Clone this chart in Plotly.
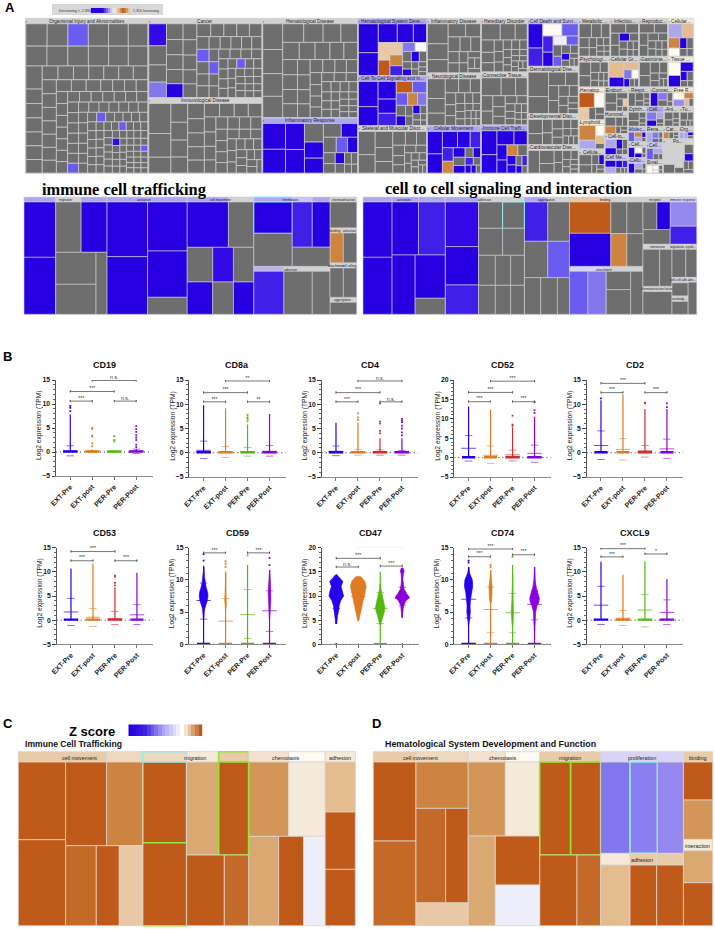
import plotly.graph_objects as go

W, H = 715, 929
PAL = {'D':'#c05a1b','M':'#cd8440','N':'#c46a28','T':'#d29658','U':'#d9a873','V':'#e3bc90','L':'#e9c9a5','S':'#f5e9da',
       'W':'#fdf9f3','I':'#eeeefa','H':'#e8cca8','J':'#efd8bd','K':'#f3e2cf','Q':'#f5ead9','B':'#2600e0','b':'#3208e6',
       'n':'#4020e8','c':'#6a5cf0','e':'#8377ee','f':'#8a7fee','h':'#9589f0','p':'#c8c4f2','r':'#b8b2f0','t':'#aca8ee',
       'u':'#d8d4f8','G':'#6e6e6e','g':'#d2d2d2','A':'#e9c9a5','X':'#ffffff'}
HI = {'+':'#8ff0ee','*':'#8fe83a'}

# ---------- panel A overview: categories and estimated pathway weights ----------
A_NAMES = ['Organismal Injury and Abnormalities','Cancer','Immunological Disease','Hematological Disease','Inflammatory Response',
 'Hematological System Deve...','Cell-To-Cell Signaling and In...','Skeletal and Muscular Disor...','Inflammatory Disease','Neurological Disease',
 'Cellular Movement','Hereditary Disorder','Connective Tissue...','Immune Cell Traffi...','Cell Death and Survi...',
 'Dermatological Dise...','Developmental Diso...','Cardiovascular Dise...','Metabolic ...','Infectiou...','Reproduc...','Cellular...',
 'Psychologi...','Cellular Gr...','Gastrointe...','Tissue ...','Hematop...','Lymphoid...','Cellula...','Endocri...','Humoral...',
 'Cell-to...','Cell Me...','Respir...','Connec...','Free R...','Ophth...','Cell...','Ant...','Tu...','Molec...','Cell...','Cellu...',
 'Rena...','Cell...','Smal...','Car...','Po...','Org...']
A_X0 = [25.3,148.3,148.3,262.3,262.3,358,358,358,427,427,427,481,481,481,527.7,527.7,527.7,527.7,578.7,610.3,639,668,578.7,608.7,639,668,
        578.7,578.7,578.7,604.7,604.7,604.7,604.7,628,650,673,628,646.3,664,679.7,628,628,628,646.3,646.3,646.3,663,663,679]
A_X1 = [148.3,262.3,262.3,358,358,427,427,427,481,481,481,527.7,527.7,527.7,578.7,578.7,578.7,578.7,610.3,639,668,693.7,608.7,639,668,693.7,
        604.7,604.7,604.7,628,628,628,628,650,673,693.7,646.3,664,679.7,693.7,646.3,646.3,646.3,663,663,663,679,693.7,693.7]
A_Y0 = [18.3,18.3,98,18.3,118,18.3,76,126,18.3,73.3,126,18.3,72.3,125.3,18.3,66.7,114,145,18.3,18.3,18.3,18.3,56.7,56.7,56.7,56.7,
        87.3,120,149.3,87.3,111.7,134,155,87.3,87.3,87.3,106.7,106.7,106.7,106.7,126.7,142,158,126.7,143,160,126.7,139,126.7]
A_Y1 = [173.5,98,173.5,118,173.5,76,126,173.5,73.3,126,173.5,72.3,125.3,173.5,66.7,114,145,173.5,56.7,56.7,56.7,56.7,87.3,87.3,87.3,87.3,
        120,149.3,173.5,111.7,134,155,173.5,106.7,106.7,106.7,126.7,126.7,126.7,126.7,142,158,173.5,143,160,173.5,139,173.5,139]
A_SIZES = [
 [340,330,325,320,315,310,300,295,290,285,280,275,270,170,168,165,162,160,158,155,152,150,148,146,144,142,140,138,136,134,132,130,128,126,124,122,
  100,99,98,97,96,95,94,93,92,91,90,89,88,87,86,85,84,83,82,81,80,79,78,77,76,75,74,73,72,71,70,69,68,67,66,65,64,63,62,61,60,
  58,57,56,55,54,53,52,51,50,50,49,49,48,48,47,47,46,46,45,45,44,44,43,43,42,42,41,41,40,40,39,39,38,38,37,37,36,36,35,35,34,34,33,33,32,32,31,31,30,30,30,29,29,28,28,27,27,26,26,25,25],
 [230,200,180,160,155,150,145,140,135,130,125,120,115,110,105,100,98,96,94,92,90,88,86,84,82,80,78,76,74,72,70,68,66,64,62,60,58,56,54,52,50,50,48,48,46,46,44,44,42,42,40,40,38,38,36,36,35,34,33,32],
 [420,330,220,200,190,180,170,160,150,145,140,135,130,125,120,115,110,105,100,95,92,90,88,85,82,80,78,75,72,70,68,66,64,62,60,58,56,54,52,50,48,46,44,42,40],
 [340,320,300,280,260,240,220,205,190,180,170,160,155,150,145,140,135,130,125,120,115,110,105,100,96,92,88,84,80,76,72,68,64,62,60,58,56,54,52,50,48,46,44,42,40,38,36,35,34,33],
 [500,460,420,380,300,260,240,210,190,170,150,130,110,95,85,75,68,60,52,45],
 [420,330,260,220,180,150,130,115,100,90,82,74,66,60,54,48,42,38,34,30,26,22],
 [400,300,260,210,180,150,130,115,100,90,80,72,64,56,50,44,38,34,30,26],
 [380,300,280,240,200,170,150,135,120,105,95,85,78,70,64,58,52,46,42,38,34,30],
 [380,300,250,210,180,160,145,130,115,100,90,80,72,64,56,50],
 [320,240,200,170,150,130,115,105,95,88,80,74,68,62,56,52,48,44,40,36,33,30,28],
 [340,290,250,210,170,150,130,115,100,90,80,72,64,56,48,40,34],
 [250,200,160,130,110,95,85,78,72,66,62,58,54,50,46,42,38,36,34,32,30,28,26,24],
 [340,250,200,170,150,130,115,100,90,80,72,66,60,54,48,42,38,34,30],
 [340,260,220,170,140,120,105,90,78,66,56,48,40,34],
 [320,240,210,180,150,130,110,95,85,75,66,58,50,44,38,32,28],
 [520,360,240,180,160,140,120,100,90,80,70,60,50],
 [170,130,110,95,85,75,65,60,55,50,45,40,36,32],
 [200,150,110,80,70,60,50,44,38,32,28,24],
 [160,130,110,95,80,70,60,52,46,40,34,30,26],
 [130,110,95,85,75,65,60,52,46,40,36,32],
 [120,105,90,80,70,60,55,50,44,40,36,32],
 [150,120,90,70,60,52,44,36],
 [135,110,85,70,55,45,38,32,26,22],
 [190,120,95,60,50,40,32,28],
 [120,100,85,70,55,45,38,30,26],
 [130,110,95,50,45,35,28],
 [170,110,90,60,45,35],
 [190,110,70,50,35],
 [100,80,55,40,32,28,22],
 [110,85,60,45,30,25,20],
 [85,70,55,40,30,25,20],
 [70,55,45,35,25,20],
 [70,60,45,35,25,20,15],
 [80,60,40,30,20,15],
 [80,55,45,35,20],
 [60,55,40,30,25],
 [70,45,30,25,15],
 [60,45,35,25,15],
 [50,40,30,20,15],
 [40,30,25,15,12],
 [50,32,28,18,14],
 [60,40,30,20,14],
 [55,40,28,18,12],
 [50,38,26,20,14],
 [60,40,26,18],
 [50,30,22,18,12],
 [36,28,18,14],
 [30,26,24,22,20,18,16,14,12,10,10,8],
 [26,22,18,14],
]
A_KEYS = {0:{2:'c',60:'c',75:'c',95:'c',110:'b',125:'c'},1:{0:'b',3:'e',8:'B',20:'c',30:'c',42:'c'},4:{0:'B',1:'B',2:'B',3:'B',5:'B',6:'B',8:'B',10:'c',11:'B',14:'B'},
 5:{0:'B',1:'B',2:'B',3:'B',4:'B',5:'L',6:'D',7:'L',8:'M',9:'n',10:'e',11:'W',13:'B',16:'B'},6:{0:'B',1:'B',2:'B',3:'B',4:'n',5:'D',6:'c',7:'c',8:'M',9:'e',11:'B',14:'B'},
 10:{0:'B',1:'B',2:'B',3:'B',4:'n',5:'n',6:'M',7:'B',9:'B',11:'B',12:'n',14:'B',15:'B'},13:{0:'B',1:'B',2:'B',3:'B',4:'B',5:'B',6:'M',8:'B',9:'B',11:'n',12:'B'},
 14:{0:'B',1:'n',2:'W',3:'c',4:'n',5:'B',6:'I',7:'c',9:'c',12:'B'},19:{4:'B'},21:{0:'t',1:'V',2:'M',3:'W',4:'B'},23:{0:'V',1:'B',2:'V',3:'e',4:'W',5:'B'},25:{0:'W',1:'B',2:'B',3:'B'},
 26:{0:'D',1:'W',2:'A'},27:{0:'M',1:'t',2:'W',3:'V'},28:{3:'B'},29:{4:'A'},30:{1:'M'},31:{0:'t',1:'B',2:'B'},32:{0:'B',1:'t',2:'B',3:'n'},
 34:{0:'B',1:'e'},35:{0:'W',1:'h',2:'M',3:'V'},37:{0:'e',1:'B',2:'t'},40:{0:'c',1:'M',2:'t',3:'B'},41:{0:'B',1:'W',2:'B'},42:{0:'B',1:'t'},43:{0:'t',1:'e',2:'c'},44:{0:'c',1:'t'},45:{0:'W',1:'W',2:'I'},
 47:{0:'g',1:'g',2:'G',3:'g',4:'G',5:'g',6:'B',7:'g',8:'G'},48:{0:'t',1:'t',2:'B'},46:{0:'M'}}
A_HEADS = {4:'t',5:'t',6:'t',10:'t',13:'t',14:'p',21:'Q',25:'Q',26:'Q',27:'Q',35:'Q',37:'t',40:'p',44:'p',42:'p',32:'p'}

# ---------- panel A zoom treemaps: nested weights, leaves read in order ----------
ICT_SIZES = [
 [[14.25,11.4,11.55],[[157.7,162.45],[[114.76,116.27],[[115.2,108],61.38]]]],
 [[18.3,17.7],[[200.08,211.06],[173.46,164.02,60.18]]],
 [[18.6,11.4],[168.64,103.36],[80.08,64.48,63.44],[74.69,60.14,59.17]],
 [[17.25,9,7.95],[[108.1,113.85],[[81,71.55],65.54]],[13.5,12.75,7.95],[116.1,109.65,68.37]],
 [12,62.4,[6,6],[36,36],[6,6],[35.2,35.2],12,28.8],
]
ICT_SHADES = 't g t B B G B G G G t t B B B B G t g B G G b G B G B t+ p t B+ G n B G r g g n G G g G L g M G g g G G g G'.split()
CCS_SIZES = [
 [[13.05,11.85,12],[[144.42,148.77],[[125.61,127.2],[122.82,[117,43.2]]]]],
 [[15,10.8,9.75],[[134,115,88],[[56.88,51.35],[58.32,52.65],[45,41.4,36.9],[43.5,40.02,35.67]]]],
 [[10.5,9.75],[82.6,76.7],[76.3,70.85],[53.9,55,39.6]],
 [[18.6,7.2,7.2],[[116.56,122.76],[[45.6,45.6],[47.04,47.04]]],[16.5,10.95,5.55],[70.95,70.95,[40.15,54.02],47.73]],
 [[[12.3,[34.44,32.8],36.08],[12,57.6,43.2]],[[13.05,[55.5,41.07],13.92,59.16],[[6.3,4.95],[34.86,27.39],[[7.84,19.11,7.84,18.62],[3.64,24.7]]]]],
]
CCS_SHADES = 't t t B B B n B B G t g g b B n G G+ G G G G G G G G t g n G G c G G G L g g D B G G M G u g g c e G G G g G B G u h n g G G g G g g G G g G g G g G'.split()

# ---------- panels C and D ----------
C_SIZES = [
 [[44.02,38.13,33.48],[[330.86,366.36],[[308.73,271.08],[220.8,165.6,168]]]],
 [[40.92,29.76,27.9],[[319.44,328.68],[[267.84,251.1],[239.56,154.76]]]],
 [[37.2,33.79],[267.6,243.07],[241.2,201,171.52]],
 [28.21,136.5,156.52,153.79],
]
C_SHADES = 'H H J D D D M N D L J+ S H* D+ D* U D* D N K W T S U D I Q V D D'.split()
D_SIZES = [
 [[39.68,48.36],[[303.36,325.12],[216.84,[251.87,189.61],107.64]]],
 [[34.72,31.93],[248.64,228.66],[220.58,[195.51,162.26]]],
 [[28.83,27.9],[259.47,251.1],[237.44,150.52]],
 [[27.28,25.42,24.18],[241.12,224.68,213.72],[30.8,28,28],[160.16,145.6,145.6]],
 [27.28,100.32,103.84,29.92,84.48,113.52],
]
D_SHADES = 'H J D N M N D L K W T S U D I H H D* D* D N u u u e f+ h Q H H V D D H D T Q U D'.split()

HEAD_TEXT = ['migration','activation','cell movement','chemotaxis','adhesion','chemoattraction','binding','attraction','attachment','cell rolling','aggregation',
 'activation','adhesion','aggregation','binding','attachment','receptor','immune response','interaction','regulation...','cytok...','chemoattraction factor','cell-cell adh...','abs...','antibody...']
HEAD_X = [65,144.3,220,290.7,290.7,343,335.7,349,335.7,349,342.7,403.7,484.7,546.3,605.3,603.7,655.7,683.3,657,678,690.7,656.9,679.7,692,679.7]
HEAD_Y = [199.7,199.7,199.7,199.7,269.7,199.7,230.7,230.7,265.7,265.7,300.3,199.7,199.7,199.7,199.7,270,199.7,199.7,246.7,246.7,246.7,288.7,280.3,280.3,299.3]
CD_TEXT = ['cell movement','migration','chemotaxis','adhesion','cell movement','chemotaxis','migration','proliferation','binding','adhesion','interaction']
CD_X = [79.7,195.3,286,340,420.3,503.3,569.7,641.7,697.3,641.7,697.3]
CD_Y = [757.7,757.7,757.7,757.7,757.7,757.7,757.7,757.7,757.7,860.3,846.3]

# ---------- colour bars ----------
ZBAR_POS = [0,1,2,3,4,5,6,7,8,9,10,11,12,13,14,15,16,17,18,19]
ZSCALE = [[0,'#2600e0'],[0.2,'#3a1ce4'],[0.45,'#a49cf0'],[0.74,'#ffffff'],[0.78,'#f5e9da'],[0.85,'#e2bd92'],[1,'#c05a1b']]
LEGEND_SCALE = [[0,'#2600e0'],[0.3,'#2600e0'],[0.55,'#dcd8f0'],[0.62,'#eeeeee'],[0.72,'#e2bd92'],[0.85,'#c05a1b'],[1,'#e2bd92']]

# ---------- panel B ----------
GENES = ['CD19','CD8a','CD4','CD52','CD2','CD53','CD59','CD47','CD74','CXCL9']
GROUPS = ['EXT-Pre','EXT-post','PER-Pre','PER-Post']
BLUE,ORANGE,GREEN,RED,PURPLE = '#2400ee','#e07a20','#55b811','#d42a32','#8a00dc'
PER_PRE_COL = [GREEN,GREEN,RED,RED,RED,RED,GREEN,GREEN,GREEN,GREEN]
AX_X0 = [56,189.3,321.7,454.3,586.7,56.7,189.3,322,454.3,586.7]
AX_YT = [380,380,380,380,380,547.7,547.7,547.7,547.7,547.7]
AX_YB = [476,477,477,477,477,644.3,644.3,644.3,644.3,644.3]
YMIN = [-5,-5,-5,-5,-5,-5,0,0,0,-5]
YMAX = [15,15,15,20,15,15,15,20,15,15]
STEM_LOW = [[0,0,0,0],[0,0,0,0],[0,0,0,0],[0,0,0,0],[0,0,0,0],[0,0,0,0],[0,0,0,0],[4.2,4.8,0,5.5],[0,0,0,0],[0,0,0,0]]
STEM_TOP = [[7.8,0.5,0.4,0.6],[9.8,9.2,5.8,8.0],[6.2,6.2,3.0,3.0],[13.2,12.4,7.8,10.5],[10.8,12,9,9],[10.7,11.7,6.8,9.8],
            [12.2,11.3,12.3,11.5],[14.4,14.2,15,15.8],[12,11.5,12.3,12],[12.1,9.4,12.2,8.5]]
MEAN = [[0.2,0.1,0.05,0.15],[0.5,0.15,0.2,0.3],[0.3,0.1,0.1,0.1],[2.4,0.6,0.7,1.1],[1.5,0.7,0.4,0.8],[1.7,0.6,0.3,1.1],
        [6.8,3.6,4.6,5.2],[10,9.9,7.4,9.5],[7,5.4,4.9,6.2],[3.1,0.4,2.1,1.6]]
SD_UP = [[1.3,0.3,0.1,0.6],[2.4,1.3,1.1,1.5],[1.4,0.7,0.6,0.5],[5.7,3.0,1.9,3.2],[4.5,2.9,1.5,2.8],[4.5,2.4,1.8,3.2],
         [9.5,7.1,8.5,8.3],[12.6,12.4,10.7,11.8],[9.5,8.9,7.9,8.3],[7,2,5.3,4.2]]
SD_DN = [[-0.8,-0.1,0,-0.3],[-1.2,-1.0,-0.7,-0.7],[-0.6,-0.5,-0.5,-0.5],[-0.9,-1.5,-0.9,-1.2],[-1.4,-1.5,-0.9,-1.2],[-1.1,-1.3,-0.9,-0.9],
         [3.9,0.05,0.9,2],[7.4,7.4,4.3,8],[4.1,1.8,1.8,3.8],[-0.9,-1.1,-1.4,-0.9]]
OUTLIERS = [[[8.5,9.2,9.6],[1.2,1.8,3.2,3.4,4.8,5.0],[2.2,2.5,3.3],[1.0,1.5,2.5,3.0,3.5,4.2,4.8,5.4]],
 [[],[],[6.5,7,7.3,7.8],[]],
 [[],[6.8,7.3,8.1],[4,4.5,6,6.4,10.2],[3.6,4.2,5,5.6,6.3,7,6.6]],
 [[],[],[8.2,8.5,10.8],[11.5,12.2,14.3]],
 [[11.2],[],[10.2,10.3],[9.4,10.2]],
 [[],[],[7.2,7.7,9,9.2],[]],
 [[13,14],[12,12.5,12.9],[13.8],[12.3,13.4]],
 [[0],[],[],[]],
 [[12.7,13],[12,12.3],[13.6],[]],
 [[],[],[],[]]]
BASE_HALF = [[.33,.33,.33,.33],[.33,.33,.33,.33],[.33,.33,.33,.33],[.3,.3,.33,.33],[.3,.3,.33,.3],[.33,.33,.33,.3],
             [.3,.3,.3,.3],[.02,.02,.3,.02],[.33,.3,.3,.3],[.33,.33,.33,.33]]
PROFILE_Y = {(6,0):[3.8,5,5.5,6,6.8,7.5,8,8.8,9.5,10.5,12],(6,1):[5.5,6,7,8,11],(6,3):[4,5,6,7,8,9,10,11.5],
 (7,0):[4.2,6,7,8,9,10,11,12,13,14,14.4],(7,1):[4.8,6,7,8,9,10,11,12,13,14],(7,2):[4,5,6,7,7.5,8.5,9.5,10.5,11.5,12.5],(7,3):[5.5,7,8,9,9.7,10.5,11.5,12.5,13.5,14.5,15.2,15.8],
 (8,0):[3,4,5,6,7,8,9,10,11,12],(8,1):[6.5,7.5,9,10,11.5],(8,2):[3,4.5,5,7,8,11],(8,3):[2,3.5,5,6,6.6,7.2,8,9,10,12]}
PROFILE_HALF = {(6,0):[.01,.03,.05,.09,.17,.2,.19,.12,.07,.04,.015],(6,1):[.01,.03,.04,.02,.012],(6,3):[.01,.03,.04,.06,.06,.05,.035,.01],
 (7,0):[.02,.06,.11,.13,.2,.33,.29,.22,.3,.12,.03],(7,1):[.02,.08,.14,.17,.22,.28,.33,.36,.3,.12],(7,2):[.02,.06,.13,.2,.22,.18,.13,.08,.03,.02],(7,3):[.015,.03,.07,.17,.33,.2,.08,.05,.03,.05,.09,.04],
 (8,0):[.01,.05,.08,.07,.09,.13,.19,.17,.05,.015],(8,1):[.03,.06,.07,.04,.015],(8,2):[.02,.04,.06,.03,.02,.01],(8,3):[.01,.02,.05,.12,.2,.22,.15,.07,.03,.01]}
BR_A = [0,0,1,2]
BR_B = [1,2,3,3]
BR_Y = [[10.6,12.6,14.9,10.6],[10.5,12.4,14.8,10.5],[10.5,12.4,14.8,10.5],[14.4,16.8,19.7,14.4],[12.4,14.3,16.6,12.4],[12.3,14.2,16.6,12.3],
        [14.2,15.2,16.2,14.2],[16,17.8,20.2,16.2],[13.6,14.8,15.8,13.9],[13.1,14.8,16.1,13.7]]
BR_TXT = [['***','***','n.s.','n.s.'],['***','***','**','**'],['***','***','n.s.','n.s.'],['***','***','***','***'],['***','***','n.s.','***'],
          ['***','***','***','***'],['***','***','***','***'],['n.s.','***','n.s.','***'],['***','***','***','***'],['***','***','***','*']]

SANS = 'Liberation Sans'
NARROW = 'Liberation Sans Narrow, Liberation Sans'
def px(x): return x / W
def py(y): return 1 - y / H

def flatten(tree, shades, bg, thin, thin_w, max_hi=1.6):
    ids, parents, values, colours, lcol, lwid = ['r'], [''], [0], [bg], [bg], [0]
    it = iter(shades)
    def walk(node, pid):
        for i, item in enumerate(node):
            nid = f'{pid}.{i}'
            ids.append(nid); parents.append(pid)
            if isinstance(item, list):
                values.append(0); colours.append(bg); lcol.append(bg); lwid.append(0)
                walk(item, nid)
            else:
                k = next(it)
                values.append(item); colours.append(PAL[k[0]])
                if len(k) > 1:
                    lcol.append(HI[k[1]]); lwid.append(max_hi)
                else:
                    lcol.append(thin); lwid.append(thin_w)
    walk(tree, 'r')
    return ids, parents, values, colours, lcol, lwid

fig = go.Figure()
def add_tree(tree, shades, x0, x1, y0, y1, bg, thin, thin_w, hi=1.6):
    ids, parents, values, colours, lcol, lwid = flatten(tree, shades, bg, thin, thin_w, hi)
    fig.add_trace(go.Treemap(ids=ids, labels=ids, parents=parents, values=values, branchvalues='remainder', sort=False,
        tiling=dict(packing='slice-dice', pad=0), textinfo='none', hoverinfo='skip', pathbar=dict(visible=False),
        marker=dict(colors=colours, line=dict(color=lcol, width=lwid), pad=dict(t=0, l=0, r=0, b=0), depthfade=False),
        domain=dict(x=[px(x0), px(x1)], y=[py(y1), py(y0)])))

# Panel A overview: one squarified treemap per category
for i, name in enumerate(A_NAMES):
    sizes = A_SIZES[i]
    marks = A_KEYS.get(i, {})
    ids = ['r'] + [f'c{j}' for j in range(len(sizes))]
    parents = [''] + ['r'] * len(sizes)
    colours = [PAL[A_HEADS.get(i, 'g')]] + [PAL[marks.get(j, 'G')] for j in range(len(sizes))]
    fig.add_trace(go.Treemap(ids=ids, labels=ids, parents=parents, values=[0] + sizes, branchvalues='remainder', sort=False,
        tiling=dict(packing='squarify', pad=0), textinfo='none', hoverinfo='skip', pathbar=dict(visible=False),
        marker=dict(colors=colours, line=dict(color='#d0d0d0', width=0.7), pad=dict(t=5.5, l=0.5, r=0.5, b=0.5), depthfade=False),
        domain=dict(x=[px(A_X0[i]), px(A_X1[i])], y=[py(A_Y1[i]), py(A_Y0[i])])))
    fig.add_annotation(xref='paper', yref='paper', x=px((A_X0[i]+A_X1[i])/2), y=py(A_Y0[i]+2.9), text=name, showarrow=False,
                       font=dict(family=SANS, size=4.7, color='#222'), xanchor='center', yanchor='middle')

add_tree(ICT_SIZES, ICT_SHADES, 24, 356.7, 197, 314.3, '#d2d2d2', '#cfcfd8', 0.6, 1.0)
add_tree(CCS_SIZES, CCS_SHADES, 363, 696.7, 197, 314.3, '#d2d2d2', '#cfcfd8', 0.6, 1.0)
add_tree(C_SIZES, C_SHADES, 18.3, 355.3, 751.7, 925.7, '#e6e6e6', '#ddd5cd', 0.8, 1.6)
add_tree(D_SIZES, D_SHADES, 373.3, 712.7, 751.7, 925.7, '#e6e6e6', '#ddd5cd', 0.8, 1.6)

for t, x, y in zip(HEAD_TEXT, HEAD_X, HEAD_Y):
    fig.add_annotation(xref='paper', yref='paper', x=px(x), y=py(y), text=t, showarrow=False,
                       font=dict(family=NARROW, size=3.2, color='#222'), xanchor='center', yanchor='middle')
for t, x, y in zip(CD_TEXT, CD_X, CD_Y):
    fig.add_annotation(xref='paper', yref='paper', x=px(x), y=py(y), text=t, showarrow=False,
                       font=dict(family=NARROW, size=5.4, color='#222'), xanchor='center', yanchor='middle')

# Panel B
layout_axes = {}
for g, gene in enumerate(GENES):
    n = g + 1
    xa, ya = f'x{n}', f'y{n}'
    x0, yt, yb = AX_X0[g], AX_YT[g], AX_YB[g]
    layout_axes[f'xaxis{n}'] = dict(domain=[px(x0), px(x0 + 96.5)], anchor=ya, range=[-0.65, 3.74], tickvals=[0,1,2,3], ticktext=GROUPS, automargin=False,
        tickangle=-45, ticks='outside', ticklen=3, tickcolor='#777', showgrid=False, zeroline=False, showline=True, linecolor='#8a8a8a', linewidth=1.1,
        tickfont=dict(family=SANS, size=7, weight='bold', color='#222'))
    layout_axes[f'yaxis{n}'] = dict(domain=[py(yb), py(yt)], anchor=xa, range=[YMIN[g], YMAX[g]], dtick=5, ticks='outside', ticklen=3.5, tickcolor='#444', automargin=False,
        showgrid=False, zeroline=False, showline=True, linecolor='#555', linewidth=1.0, minor=dict(dtick=1, ticks='outside', ticklen=2, tickcolor='#666', showgrid=False),
        tickfont=dict(family=SANS, size=6.8, weight='bold', color='#111'))
    fig.add_annotation(xref='paper', yref='paper', x=px(x0 + 48), y=py(yt - 15), text=gene, showarrow=False,
                       font=dict(family=SANS, size=9, weight='bold', color='#111'), xanchor='center', yanchor='middle')
    fig.add_annotation(xref='paper', yref='paper', x=px(x0 - 17), y=py((yt + yb) / 2 - 3), text='Log2 expression (TPM)', textangle=-90, showarrow=False,
                       font=dict(family=SANS, size=6.7, color='#222'), xanchor='center', yanchor='middle')
    cols = [BLUE, ORANGE, PER_PRE_COL[g], PURPLE]
    common = dict(xaxis=xa, yaxis=ya, hoverinfo='skip', showlegend=False, cliponaxis=False)
    fig.add_trace(go.Scatter(x=[-0.65, 3.74], y=[0, 0], mode='lines', line=dict(color='#222', width=0.9, dash='1px,3px'), **common))
    for k in range(4):
        c = cols[k]
        fig.add_trace(go.Scatter(x=[k, k], y=[STEM_LOW[g][k], STEM_TOP[g][k]], mode='lines', line=dict(color=c, width=1.2), **common))
        if (g, k) in PROFILE_Y:
            ys, hs = PROFILE_Y[(g, k)], PROFILE_HALF[(g, k)]
            fig.add_trace(go.Scatter(x=[k - h for h in hs] + [k + h for h in reversed(hs)], y=ys + ys[::-1], mode='lines', fill='toself', fillcolor=c,
                                     line=dict(color=c, width=0.6), **common))
        h = BASE_HALF[g][k]
        fig.add_trace(go.Scatter(x=[k - h, k + h], y=[0.1, 0.1] if YMIN[g] < 0 else [0.04, 0.04], mode='lines', line=dict(color=c, width=2.4), **common))
        if OUTLIERS[g][k]:
            fig.add_trace(go.Scatter(x=[k] * len(OUTLIERS[g][k]), y=OUTLIERS[g][k], mode='markers', marker=dict(color=c, size=1.8, symbol='square'), **common))
        for yy, hw, w in [(MEAN[g][k], 0.33, 1.0), (SD_UP[g][k], 0.17, 0.8), (SD_DN[g][k], 0.17, 0.8)]:
            fig.add_trace(go.Scatter(x=[k - hw, k + hw], y=[yy, yy], mode='lines', line=dict(color=c, width=w), opacity=0.7, **common))
    for a, b, yy, tx in zip(BR_A, BR_B, BR_Y[g], BR_TXT[g]):
        cap = (YMAX[g] - YMIN[g]) * 0.012
        fig.add_trace(go.Scatter(x=[a, a, a, b, b, b], y=[yy - cap, yy + cap, yy, yy, yy + cap, yy - cap], mode='lines', line=dict(color='#555', width=0.8), **common))
        fig.add_trace(go.Scatter(x=[(a + b) / 2], y=[yy], mode='text', text=[tx], textposition='top center',
                                 textfont=dict(family=SANS, size=5.2, color='#333'), **common))

# Colour bars as heatmaps on their own axes
def bar(n, x0, x1, y0, y1, scale):
    fig.add_trace(go.Heatmap(z=[ZBAR_POS], x=ZBAR_POS, y=[0], colorscale=scale, showscale=False, hoverinfo='skip', xaxis=f'x{n}', yaxis=f'y{n}'))
    layout_axes[f'xaxis{n}'] = dict(domain=[px(x0), px(x1)], anchor=f'y{n}', visible=False, fixedrange=True, automargin=False)
    layout_axes[f'yaxis{n}'] = dict(domain=[py(y1), py(y0)], anchor=f'x{n}', visible=False, fixedrange=True, automargin=False)
bar(11, 128.3, 202.7, 724.3, 736, ZSCALE)
bar(12, 90.7, 130, 8, 13, LEGEND_SCALE)

TEXTS = [('A', 3, 7.5, 13, 'bold', SANS, '#000', 'left'), ('B', 1, 356, 13, 'bold', SANS, '#000', 'left'), ('C', 1, 723.5, 13, 'bold', SANS, '#000', 'left'), ('D', 369.5, 723.5, 13, 'bold', SANS, '#000', 'left'),
 ('immune cell trafficking', 40, 189, 16.4, 'bold', 'Liberation Serif', '#000', 'left'), ('cell to cell signaling and interaction', 383, 188, 16.4, 'bold', 'Liberation Serif', '#000', 'left'),
 ('Z score', 66.5, 731.5, 13, 'bold', SANS, '#000', 'left'), ('Immune Cell Trafficking', 23, 743.7, 8.6, 'bold', SANS, '#111', 'left'),
 ('Hematological System Development and Function', 383, 743.7, 8.9, 'bold', SANS, '#111', 'left'),
 ('Decreasing &lt; -2.394', 57, 10.7, 3.5, 'normal', SANS, '#333', 'left'), ('1.316 Increasing', 131, 10.7, 3.5, 'normal', SANS, '#333', 'left')]
for t, x, y, s, wt, fam, col, anc in TEXTS:
    fig.add_annotation(xref='paper', yref='paper', x=px(x), y=py(y), text=t, showarrow=False, xanchor=anc, yanchor='middle',
                       font=dict(family=fam, size=s, weight=wt, color=col))

fig.update_layout(width=W, height=H, margin=dict(l=0, r=0, t=0, b=0, pad=0, autoexpand=False), autosize=False, paper_bgcolor='white', plot_bgcolor='rgba(0,0,0,0)',
                  showlegend=False, **layout_axes,
                  shapes=[dict(type='rect', xref='paper', yref='paper', x0=px(52), x1=px(163), y0=py(15), y1=py(4), fillcolor='#d8d8d8', line=dict(width=0), layer='below')])
fig.write_html('out.html', default_width=f'{W}px', default_height=f'{H}px', config={'displayModeBar': False},
               post_script="document.body.style.margin='0';document.documentElement.style.overflow='hidden';")
